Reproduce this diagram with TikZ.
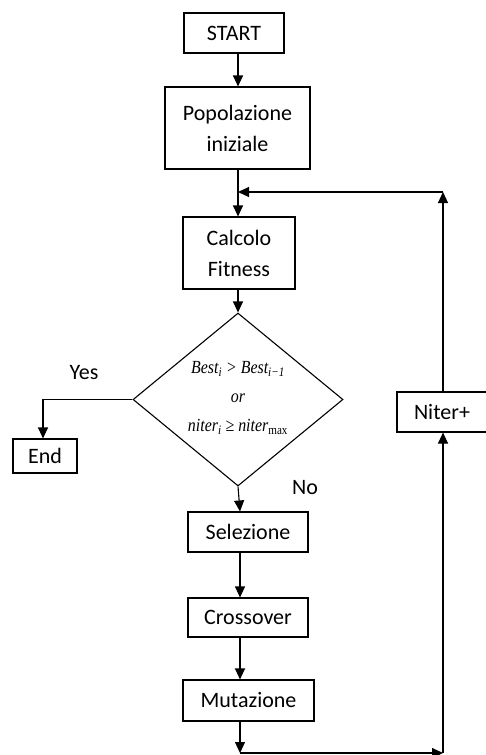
\documentclass[tikz,border=0pt]{standalone}
\usepackage{fontspec}
\setmainfont{Carlito}
\newfontfamily\condfont[FakeStretch=0.86]{Liberation Serif}
\usetikzlibrary{arrows.meta,shapes.geometric}

\tikzset{
  box/.style={draw, line width=1.1pt, inner sep=0pt, align=center,
              font=\fontsize{22}{31}\selectfont},
  flow/.style={line width=1.1pt, -{Triangle[length=11pt,width=10pt]}},
  tag/.style={font=\fontsize{22}{24}\selectfont}
}

\begin{document}
\begin{tikzpicture}[x=1pt,y=-1pt]
  \useasboundingbox (0,0) rectangle (485,755);

  % process boxes
  \node[box, minimum width=100pt, minimum height=40pt] (start) at (234,33) {START};
  \node[box, minimum width=145pt, minimum height=82pt] (pop) at (237.5,128) {Popolazione\\iniziale};
  \node[box, minimum width=112pt, minimum height=72pt] (calc) at (239,253) {Calcolo\\Fitness};
  \node[draw, diamond, line width=1.1pt, inner sep=0pt, minimum width=210pt, minimum height=173pt] (dia) at (238,399.5) {};
  \node[align=center, font=\condfont\itshape\fontsize{18.5}{29}\selectfont] (cond) at (238,398)
    {Best\textsubscript{i} > Best\textsubscript{i−1}\\or\\niter\textsubscript{i} ≥ niter\textsubscript{\upshape max}};
  \node[box, minimum width=64pt, minimum height=34pt] (endn) at (45,456) {End};
  \node[box, minimum width=120pt, minimum height=40pt] (sel) at (248,532) {Selezione};
  \node[box, minimum width=120pt, minimum height=39pt] (cross) at (248,617.5) {Crossover};
  \node[box, minimum width=131pt, minimum height=41pt] (mut) at (248.5,700.5) {Mutazione};
  \node[box, minimum width=90pt, minimum height=40pt] (niter) at (442,412) {Niter+};

  % branch labels
  \node[tag] (yes) at (84,373) {Yes};
  \node[tag] (no) at (305,488) {No};

  % routing points
  \coordinate (top) at (238,0);
  \coordinate (low) at (240,0);
  \coordinate (join) at (238,192);
  \coordinate (turn) at (43,399.5);
  \coordinate (bl) at (240,753);
  \coordinate (br) at (443,753);

  % main sequence
  \draw[flow] (start.south -| top) -- (pop.north -| top);
  \draw[flow] (pop.south -| top) -- (calc.north -| top);
  \draw[flow] (calc.south -| top) -- (dia.north);
  \draw[flow] (dia.south) -- (sel.north -| low);
  \draw[flow] (sel.south -| low) -- (cross.north -| low);
  \draw[flow] (cross.south -| low) -- (mut.north -| low);

  % exit branch
  \draw[flow] (dia.west) -- (turn) -- (endn.north -| turn);

  % iteration loop
  \draw[flow] (mut.south -| low) -- (bl);
  \draw[flow] (bl) -- (br);
  \draw[flow] (br) -- (niter.south -| br);
  \draw[flow] (niter.north -| br) -- (br |- join);
  \draw[flow] (br |- join) -- (join);
\end{tikzpicture}
\end{document}
